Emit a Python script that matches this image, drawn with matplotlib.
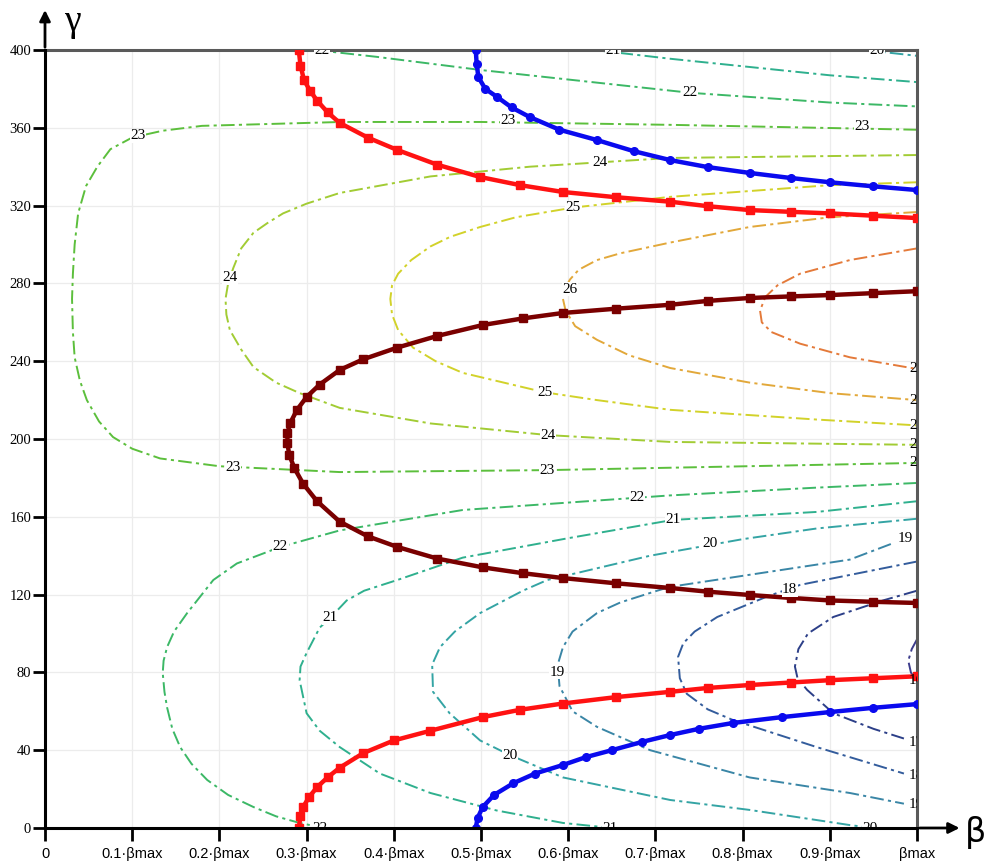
import matplotlib
matplotlib.use('Agg')
import matplotlib.pyplot as plt

# ---- contour lines (beta in units of beta_max, gamma) ----
c16_b = [1.0, 0.994, 0.990, 0.993, 0.997]
c16_g = [97, 92, 86, 80, 77]

c17_b = [1.0, 0.961, 0.904, 0.875, 0.864, 0.860, 0.863, 0.874, 0.904, 0.950, 0.985]
c17_g = [122, 117, 108.5, 100, 92, 83, 77, 71, 59, 51, 46]

c18_b = [1.0, 0.866, 0.828, 0.771, 0.745, 0.732, 0.726, 0.728, 0.736, 0.760, 0.789, 0.885, 0.985]
c18_g = [137, 125, 119, 108.5, 101, 95, 88, 77, 69, 61, 55.5, 41.6, 28]

c19_b = [0.970, 0.923, 0.717, 0.702, 0.660, 0.633, 0.605, 0.594, 0.588, 0.590, 0.605, 0.633, 0.694, 0.808, 0.923, 0.985]
c19_g = [146, 138, 124, 122, 116, 110.5, 101, 93, 84, 73, 60, 52, 40, 26, 18, 12.5]

c20_b = [1.0, 0.885, 0.800, 0.694, 0.576, 0.548, 0.499, 0.470, 0.453, 0.444, 0.445, 0.464, 0.499, 0.533, 0.594, 0.717, 0.808, 0.923, 0.95]
c20_g = [159, 154, 148.5, 140, 127.5, 122, 110.5, 101, 93, 84, 70, 59, 45, 37.5, 26, 14.4, 9.3, 1.5, 0]

c21_top_b = [0.63, 0.717, 0.90, 1.0]
c21_top_g = [400, 395.5, 387, 383.5]
c21_b = [1.0, 0.885, 0.72, 0.60, 0.479, 0.404, 0.366, 0.346, 0.327, 0.315, 0.300, 0.293, 0.292, 0.300, 0.315, 0.338, 0.384, 0.442, 0.518, 0.594, 0.65]
c21_g = [168, 162.5, 158.4, 149, 139, 127.5, 122, 117, 108, 103, 90, 83, 76, 59, 50, 41.6, 28, 18, 9, 2.6, 0]

c22_top_b = [0.31, 0.38, 0.50, 0.74, 0.90, 1.0]
c22_top_g = [400, 396.5, 389.7, 378, 373, 371]
c22_b = [1.0, 0.885, 0.717, 0.479, 0.338, 0.270, 0.220, 0.193, 0.163, 0.148, 0.140, 0.136, 0.135, 0.137, 0.140, 0.146, 0.155, 0.168, 0.186, 0.210, 0.239, 0.265, 0.292, 0.32]
c22_g = [177.4, 175, 171, 163.5, 153, 144.5, 136, 127.5, 110.5, 101, 93, 86, 79.7, 70, 62, 51, 41.6, 33, 24.7, 17, 10.8, 6, 2.6, 0]

c20_top_b = [0.94, 1.0]
c20_top_g = [400, 397]

c23_b = [1.0, 0.72, 0.50, 0.34, 0.18, 0.135, 0.10, 0.075, 0.06, 0.047, 0.038, 0.034, 0.032, 0.031, 0.032, 0.034, 0.040, 0.048, 0.062, 0.078, 0.100, 0.132, 0.20, 0.338, 0.576, 1.0]
c23_g = [359, 361.5, 363, 363, 361, 358.5, 355, 349, 340, 330, 316, 300, 285, 272, 255, 242, 230, 220, 209, 201, 195, 190, 186, 183, 184, 187.7]

c24_b = [1.0, 0.717, 0.556, 0.442, 0.338, 0.300, 0.273, 0.255, 0.239, 0.225, 0.216, 0.210, 0.207, 0.208, 0.212, 0.225, 0.239, 0.265, 0.292, 0.338, 0.442, 0.577, 0.717, 1.0]
c24_g = [346, 344.5, 340, 335, 326.5, 321, 316, 311, 306, 298, 288, 280, 272, 264, 256, 246, 237, 229, 223.6, 216, 208, 202, 198.5, 197]

c25_b = [1.0, 0.90, 0.717, 0.606, 0.540, 0.499, 0.465, 0.442, 0.420, 0.405, 0.398, 0.396, 0.398, 0.405, 0.422, 0.448, 0.479, 0.573, 0.633, 0.717, 0.885, 1.0]
c25_g = [332, 330.5, 324.5, 319, 314, 309, 304, 299, 292, 285, 279, 272, 264, 256, 247, 240, 234, 224, 220, 215, 210, 207]

c26_b = [1.0, 0.90, 0.808, 0.717, 0.660, 0.633, 0.612, 0.602, 0.596, 0.594, 0.597, 0.608, 0.633, 0.670, 0.717, 0.808, 0.90, 1.0]
c26_g = [316.7, 314, 309, 301, 295.5, 292, 287, 282, 277, 272, 266, 258, 251, 243, 236.5, 229, 223.6, 220]

c27_b = [1.0, 0.923, 0.866, 0.840, 0.826, 0.820, 0.822, 0.833, 0.866, 0.923, 1.0]
c27_g = [298, 292, 285, 279, 273, 266, 260, 255, 249, 242, 236]

contour_levels = [16, 17, 18, 19, 20, 20, 21, 21, 22, 22, 23, 24, 25, 26, 27]
contour_b = [c16_b, c17_b, c18_b, c19_b, c20_b, c20_top_b, c21_b, c21_top_b, c22_b, c22_top_b,
             c23_b, c24_b, c25_b, c26_b, c27_b]
contour_g = [c16_g, c17_g, c18_g, c19_g, c20_g, c20_top_g, c21_g, c21_top_g, c22_g, c22_top_g,
             c23_g, c24_g, c25_g, c26_g, c27_g]

# ---- thick boundary curves ----
maroon_b = [1.0, 0.95, 0.90, 0.855, 0.808, 0.76, 0.717, 0.655, 0.594, 0.548, 0.502, 0.450, 0.404, 0.365, 0.338, 0.315, 0.300, 0.289, 0.281, 0.278,
            0.278, 0.280, 0.286, 0.296, 0.312, 0.338, 0.370, 0.404, 0.450, 0.502, 0.548, 0.594, 0.655, 0.717, 0.76, 0.808, 0.855, 0.90, 0.95, 1.0]
maroon_g = [276, 275, 274, 273.3, 272.5, 271, 269, 267, 264.8, 262, 258.6, 253, 247, 241, 235.5, 228, 221.6, 215, 208, 203,
            198, 192, 185, 177, 168, 157.5, 150, 144.5, 138.5, 134, 131, 128.5, 125.8, 123.4, 121.5, 119.8, 118.3, 117, 116.3, 115.7]

red_top_b = [0.291, 0.293, 0.297, 0.304, 0.312, 0.324, 0.338, 0.370, 0.404, 0.450, 0.499, 0.545, 0.594, 0.655, 0.717, 0.76, 0.808, 0.855, 0.90, 0.95, 1.0]
red_top_g = [400, 392, 384.6, 379, 374, 368, 362.5, 355, 348.6, 341, 334.7, 330.5, 327, 324.3, 322, 319.7, 317.7, 316.8, 316, 314.8, 313.6]
red_low_b = [0.291, 0.293, 0.296, 0.303, 0.312, 0.324, 0.338, 0.365, 0.400, 0.442, 0.502, 0.545, 0.594, 0.655, 0.717, 0.76, 0.808, 0.855, 0.90, 0.95, 1.0]
red_low_g = [0, 6, 10.8, 16, 21, 26, 31, 38.5, 45, 50, 57, 60.8, 64, 67.3, 70, 72, 73.5, 74.8, 76, 77, 78]

blue_top_b = [0.494, 0.495, 0.497, 0.505, 0.518, 0.535, 0.556, 0.590, 0.633, 0.675, 0.717, 0.76, 0.808, 0.855, 0.90, 0.95, 1.0]
blue_top_g = [400, 393, 386, 380, 376, 370.5, 365.5, 359, 353.7, 348, 343.4, 339.8, 336.8, 334.2, 332, 329.9, 328]
blue_low_b = [0.494, 0.496, 0.502, 0.515, 0.537, 0.562, 0.594, 0.620, 0.650, 0.685, 0.717, 0.750, 0.789, 0.845, 0.90, 0.95, 1.0]
blue_low_g = [0, 5, 10.8, 17, 23, 28, 32.4, 36.4, 40, 44.3, 47.8, 51, 54, 57, 59.6, 61.8, 63.7]

# ---- inline contour labels ----
label_txt = ['23', '23', '23', '24', '24', '25', '26', '22', '23', '23', '24', '25',
             '22', '22', '21', '21', '20', '20', '19', '19', '18',
             '22', '21', '20', '22', '21', '20',
             '27', '26', '25', '24', '23', '16', '17', '18', '19']
label_b = [0.107, 0.531, 0.937, 0.212, 0.636, 0.606, 0.602, 0.740, 0.216, 0.576, 0.577, 0.573,
           0.270, 0.679, 0.720, 0.327, 0.763, 0.533, 0.987, 0.587, 0.854,
           0.318, 0.651, 0.954, 0.315, 0.648, 0.946,
           1.003, 1.003, 1.003, 1.003, 1.003, 1.003, 1.003, 1.003, 1.003]
label_g = [356, 364, 360.5, 282.8, 342.4, 319, 277, 378, 185.6, 184, 202, 224,
           144.5, 170, 158.4, 108, 146.5, 37.5, 149, 80, 122.4,
           400, 400, 400, 0, 0, 0,
           236.5, 220, 207, 197, 187.7, 76, 44, 27, 12]

x_ticks = [0, 0.1, 0.2, 0.3, 0.4, 0.5, 0.6, 0.7, 0.8, 0.9, 1.0]
x_tick_labels = ['0', '0.1·βmax', '0.2·βmax', '0.3·βmax', '0.4·βmax', '0.5·βmax',
                 '0.6·βmax', '0.7·βmax', '0.8·βmax', '0.9·βmax', 'βmax']
y_ticks = [0, 40, 80, 120, 160, 200, 240, 280, 320, 360, 400]

level_colors = {16: '#3c3c8c', 17: '#2c3f88', 18: '#335c9c', 19: '#3a86a6', 20: '#34a4a4',
                21: '#2fb08e', 22: '#3cb866', 23: '#5cbf3c', 24: '#a2cc34', 25: '#d2d22a',
                26: '#e2a83a', 27: '#e47a3a'}


def main():
    fig = plt.figure(figsize=(9.89, 8.63), dpi=100)
    ax = fig.add_axes([45 / 989, 35 / 863, 872 / 989, 778 / 863])

    ax.set_xlim(0, 1)
    ax.set_ylim(0, 400)
    ax.grid(True, color='#ececec', linewidth=0.9)
    ax.set_axisbelow(True)

    dash = (0, (7, 2.2, 1.6, 2.2))
    for lvl, bs, gs in zip(contour_levels, contour_b, contour_g):
        ax.plot(bs, gs, color=level_colors[lvl], linewidth=1.4, linestyle=dash, zorder=2)

    # thick curves with markers
    ax.plot(maroon_b, maroon_g, color='#7a0000', linewidth=3.2, marker='s', markersize=5.5, zorder=4)
    for bs, gs in [(red_top_b, red_top_g), (red_low_b, red_low_g)]:
        ax.plot(bs, gs, color='#ff1212', linewidth=3.2, marker='s', markersize=5.5, zorder=4)
    for bs, gs in [(blue_top_b, blue_top_g), (blue_low_b, blue_low_g)]:
        ax.plot(bs, gs, color='#0a0aee', linewidth=3.2, marker='o', markersize=5.5, zorder=4)

    for t, b, g in zip(label_txt, label_b, label_g):
        edge = b > 1.0
        ax.text(b - 0.012 if edge else b, g, t, fontsize=11, family='Liberation Serif',
                ha='left' if edge else 'center', va='center', zorder=5, clip_on=True,
                bbox=None if edge else dict(facecolor='white', edgecolor='none', pad=0.3))

    # frame
    for side in ['top', 'right']:
        ax.spines[side].set_color('#5a5a5a')
        ax.spines[side].set_linewidth(2.2)
    for side in ['left', 'bottom']:
        ax.spines[side].set_color('black')
        ax.spines[side].set_linewidth(2.2)
        ax.spines[side].set_zorder(6)

    ax.set_xticks(x_ticks)
    ax.set_xticklabels(x_tick_labels, family='Liberation Sans', fontsize=10.5)
    ax.set_yticks(y_ticks)
    ax.set_yticklabels([str(v) for v in y_ticks], family='Liberation Serif', fontsize=10.5)
    ax.tick_params(axis='x', direction='out', length=9, width=2, pad=5)
    ax.tick_params(axis='y', direction='out', length=9, width=2, pad=1)

    # axis arrows
    ax.annotate('', xy=(0, 1.055), xytext=(0, 1.0), xycoords='axes fraction',
                arrowprops=dict(arrowstyle='-|>', color='black', lw=2, mutation_scale=16),
                annotation_clip=False)
    ax.annotate('', xy=(1.052, 0), xytext=(1.0, 0), xycoords='axes fraction',
                arrowprops=dict(arrowstyle='-|>', color='black', lw=2, mutation_scale=16),
                annotation_clip=False)
    fig.text(72 / 989, 1 - 22 / 863, 'γ', fontsize=27, family='Liberation Serif',
             ha='center', va='center')
    fig.text(975 / 989, 1 - 832 / 863, 'β', fontsize=24, family='DejaVu Sans',
             ha='center', va='center')

    fig.savefig('out.png', dpi=100, facecolor='white')
    plt.close(fig)


if __name__ == '__main__':
    main()
